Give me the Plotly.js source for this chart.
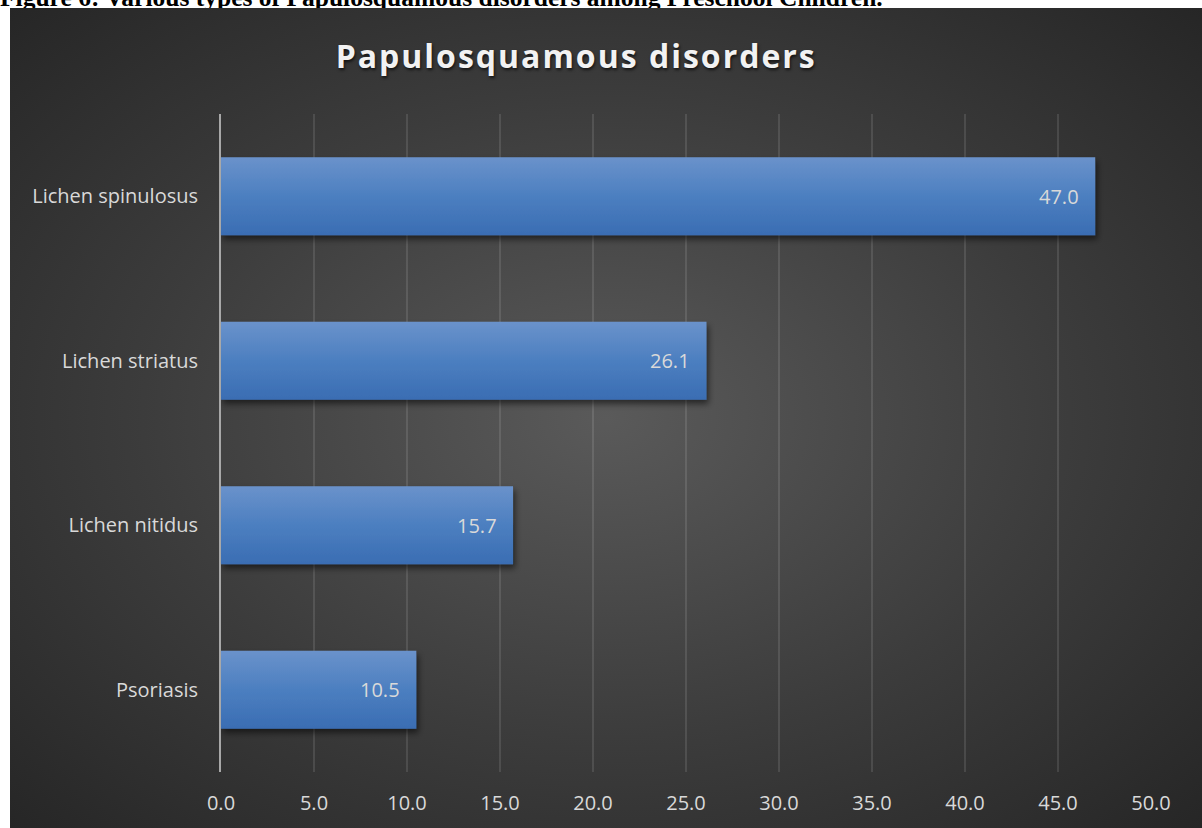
<!DOCTYPE html>
<html>
<head>
<meta charset="utf-8">
<script src="https://cdn.plot.ly/plotly-3.0.1.min.js"></script>
<style>
  html, body { margin: 0; padding: 0; background: #ffffff; width: 1202px; height: 828px; overflow: hidden; }
  #caption {
    position: absolute; left: 0; top: -15px; margin: 0;
    font-family: "Liberation Serif", "Times New Roman", serif;
    font-weight: bold; font-size: 25.5px; line-height: 26px; color: #000;
    white-space: nowrap; z-index: 0;
  }
  #chart {
    position: absolute; left: 10px; top: 8px; width: 1192px; height: 820px; z-index: 1;
    background: radial-gradient(ellipse farthest-corner at 50% 50%, #5a5a5a 0%, #3c3c3c 55%, #262626 100%);
  }
  #chart .gtitle { letter-spacing: 2px; }
</style>
</head>
<body>
<div id="caption">Figure 6: Various types of Papulosquamous disorders among Preschool Children.</div>
<div id="chart"></div>
<script>
// Papulosquamous disorder types (percent), listed bottom to top
const categories = ['Psoriasis', 'Lichen nitidus', 'Lichen striatus', 'Lichen spinulosus'];
const values = [10.5, 15.7, 26.1, 47.0];
const tickValues = [0, 5, 10, 15, 20, 25, 30, 35, 40, 45, 50];
const tickLabels = ['0.0', '5.0', '10.0', '15.0', '20.0', '25.0', '30.0', '35.0', '40.0', '45.0', '50.0'];
const chartTitle = 'Papulosquamous disorders';

const labelFont = { family: 'Open Sans, sans-serif', size: 20, color: '#d9d9d9' };

const trace = {
  type: 'bar',
  orientation: 'h',
  x: values,
  y: categories,
  marker: { color: '#4f7fc0', line: { width: 0 } },
  hoverinfo: 'x+y'
};

const valueLabels = values.map((v, i) => ({
  x: v, y: categories[i], xref: 'x', yref: 'y',
  text: v.toFixed(1), showarrow: false,
  xanchor: 'right', yanchor: 'middle', xshift: -14,
  font: labelFont
}));

const layout = {
  width: 1192, height: 820,
  paper_bgcolor: 'rgba(0,0,0,0)',
  plot_bgcolor: 'rgba(0,0,0,0)',
  margin: { l: 211, r: 51, t: 106, b: 56 },
  bargap: 0.526,
  showlegend: false,
  title: {
    text: chartTitle,
    xref: 'container', yref: 'container',
    x: 0.475, y: 0.94, xanchor: 'center', yanchor: 'middle',
    font: {
      family: 'Open Sans, sans-serif', size: 32, weight: 700, color: '#f2f2f2',
      shadow: '1px 2px 3px rgba(0,0,0,0.65)'
    }
  },
  xaxis: {
    range: [0, 50],
    tickvals: tickValues, ticktext: tickLabels,
    showgrid: true, gridcolor: 'rgba(255,255,255,0.11)', gridwidth: 2,
    zeroline: false, showline: false, ticks: '',
    ticklabelstandoff: 17,
    tickfont: labelFont, fixedrange: true
  },
  yaxis: {
    type: 'category',
    categoryorder: 'array', categoryarray: categories,
    showgrid: false, zeroline: false,
    showline: true, linecolor: '#a8a8a8', linewidth: 2,
    ticks: '', ticklabelstandoff: 17,
    tickfont: labelFont, fixedrange: true
  },
  annotations: valueLabels
};

Plotly.newPlot('chart', [trace], layout, { displayModeBar: false, staticPlot: true }).then(gd => {
  // Vertical gradient and soft shadow on the bars
  const svgNS = 'http://www.w3.org/2000/svg';
  const svg = gd.querySelector('svg.main-svg');
  let defs = svg.querySelector('defs');
  if (!defs) { defs = document.createElementNS(svgNS, 'defs'); svg.insertBefore(defs, svg.firstChild); }
  defs.insertAdjacentHTML('beforeend',
    '<linearGradient id="barFill" x1="0" y1="0" x2="0" y2="1">' +
      '<stop offset="0" stop-color="#6a92cb"/>' +
      '<stop offset="0.5" stop-color="#4c7fc0"/>' +
      '<stop offset="1" stop-color="#3a6db3"/>' +
    '</linearGradient>' +
    '<filter id="barShadow" x="-5%" y="-20%" width="115%" height="160%">' +
      '<feDropShadow dx="2" dy="4" stdDeviation="3" flood-color="#000" flood-opacity="0.55"/>' +
    '</filter>');
  gd.querySelectorAll('.trace.bars .point path').forEach(p => {
    p.style.fill = 'url(#barFill)';
    p.setAttribute('filter', 'url(#barShadow)');
  });
});
</script>
</body>
</html>
